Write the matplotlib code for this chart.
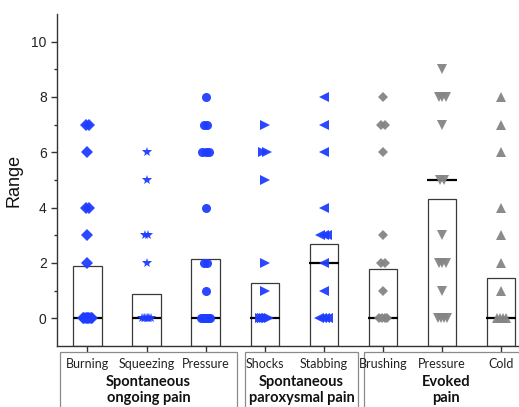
import matplotlib
matplotlib.use("Agg")
import matplotlib.pyplot as plt
import matplotlib.transforms as mtransforms
from matplotlib.patches import Rectangle
import numpy as np

# ---- data ----
categories = ["Burning", "Squeezing", "Pressure", "Shocks", "Stabbing",
              "Brushing", "Pressure", "Cold"]
means = [1.89, 0.89, 2.13, 1.29, 2.68, 1.78, 4.31, 1.46]
medians = [0, 0, 0, 0, 2, 0, 5, 0]
burning = [7, 7, 6, 4, 4, 3, 2, 0, 0, 0, 0, 0, 0, 0, 0]
squeezing = [6, 5, 3, 3, 2, 0, 0, 0, 0, 0, 0, 0]
pressure_sp = [8, 7, 7, 6, 6, 6, 4, 2, 2, 1, 0, 0, 0, 0, 0, 0]
shocks = [7, 6, 6, 5, 2, 1, 0, 0, 0, 0, 0, 0]
stabbing = [8, 7, 6, 4, 3, 3, 3, 2, 1, 0, 0, 0, 0]
brushing = [8, 7, 7, 6, 3, 2, 2, 1, 0, 0, 0, 0]
pressure_ev = [9, 8, 8, 8, 7, 5, 5, 3, 2, 2, 2, 1, 0, 0, 0, 0]
cold = [8, 7, 6, 4, 3, 2, 1, 0, 0, 0, 0]
series = [burning, squeezing, pressure_sp, shocks, stabbing,
          brushing, pressure_ev, cold]
groups = ["Spontaneous\nongoing pain", "Spontaneous\nparoxysmal pain",
          "Evoked\npain"]
group_members = [(0, 3), (3, 5), (5, 8)]

# ---- style ----
blue = "#1f3dff"
gray = "#858585"
markers = ["D", "*", "o", ">", "<", "D", "v", "^"]
msizes = [6, 7.5, 6.5, 6.5, 6.5, 5.5, 7, 6.5]
colors = [blue] * 5 + [gray] * 3

fig = plt.figure(figsize=(5.19, 4.07), dpi=100)
ax = fig.add_axes([0.110, 0.150, 0.890, 0.8156])

x = np.arange(1, len(categories) + 1)
ymin, ymax = -1, 11
ax.set_xlim(0.487, 8.30)
ax.set_ylim(ymin, ymax)

# bars (mean)
ax.bar(x, np.array(means) - ymin, bottom=ymin, width=0.48,
       facecolor="white", edgecolor="#3a3a3a", linewidth=0.9, zorder=1)
# medians
ax.hlines(medians, x - 0.25, x + 0.25, colors="black", linewidth=1.6, zorder=3)

# points with deterministic spread for duplicates
for i, vals in enumerate(series):
    vals = np.array(vals, dtype=float)
    xs = []
    ys = []
    for v in np.unique(vals):
        k = int(np.sum(vals == v))
        step = 0.0 if k == 1 else min(0.06, 0.15 / (k - 1))
        offs = (np.arange(k) - (k - 1) / 2) * step
        xs.extend(x[i] + offs)
        ys.extend([v] * k)
    ax.plot(xs, ys, linestyle="none", marker=markers[i], markersize=msizes[i],
            color=colors[i], markeredgewidth=0, alpha=0.95, zorder=4)

# axes styling
for s in ["top", "right"]:
    ax.spines[s].set_visible(False)
for s in ["left", "bottom"]:
    ax.spines[s].set_color("#333333")
    ax.spines[s].set_linewidth(1.0)
ax.set_yticks([0, 2, 4, 6, 8, 10])
ax.set_yticks([1, 3, 5, 7, 9], minor=True)
ax.tick_params(axis="y", which="major", length=4, width=1, color="#333333",
               labelsize=10, labelcolor="#222222")
ax.tick_params(axis="y", which="minor", length=2.5, width=1, color="#333333")
for lab in ax.get_yticklabels():
    lab.set_fontfamily("Liberation Sans")
ax.set_xticks(x)
ax.set_xticklabels([])
ax.tick_params(axis="x", which="major", length=4.5, width=1, color="#333333")
ax.set_ylabel("Range", fontsize=13, family="Liberation Sans", labelpad=6,
              color="#111111")

# bottom group boxes and labels
trans = mtransforms.blended_transform_factory(ax.transData, fig.transFigure)
box_edges = [(0.54, 3.53), (3.66, 5.58), (5.68, 8.45)]
for (x0, x1), (a, b), g in zip(box_edges, group_members, groups):
    r = Rectangle((x0, -0.02), x1 - x0, 0.1551, transform=trans,
                  fill=False, edgecolor="#8a8a8a", linewidth=0.9, clip_on=False)
    fig.add_artist(r)
    for j in range(a, b):
        fig.text(x[j], 0.1057, categories[j], transform=trans, ha="center",
                 va="center", fontsize=9, family="Lato", color="#222222")
    fig.text((x0 + x1) / 2, 0.041, g, transform=trans, ha="center",
             va="center", fontsize=10.5, family="Lato", fontweight="bold",
             linespacing=1.2, color="#111111")

fig.savefig("out.png", dpi=100)
